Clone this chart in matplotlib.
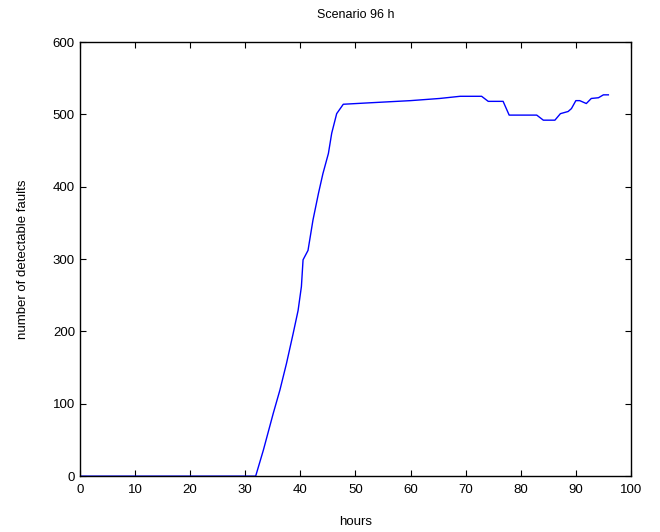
import matplotlib
matplotlib.use("Agg")
import matplotlib.pyplot as plt

plt.rcParams['font.family'] = ['Liberation Sans', 'DejaVu Sans']

# Data
hours = [0, 10, 20, 31.9, 33.3, 35.1, 36.3, 37.5, 38.7, 39.6, 40.2, 40.5, 41.4, 42.3,
         43.3, 44.1, 45.1, 45.7, 46.6, 47.8, 52.6, 60.0, 65.3, 69.0, 72.9, 74.1,
         76.8, 77.9, 82.9, 84.1, 86.2, 87.2, 88.6, 89.2, 90.0, 90.7, 91.9, 92.8,
         94.1, 95.0, 95.9]
faults = [0, 0, 0, 0, 36, 87, 119, 156, 197, 229, 262, 299, 312, 354,
          391, 418, 446, 474, 501, 514, 516, 519, 522, 525, 525, 518,
          518, 499, 499, 492, 492, 501, 504, 508, 519, 519, 515, 522,
          523, 527, 527]

x_ticks = list(range(0, 101, 10))
y_ticks = list(range(0, 601, 100))

fig = plt.figure(figsize=(6.6, 5.32), dpi=100)
ax = fig.add_axes([0.121, 0.105, 0.835, 0.816])
ax.plot(hours, faults, color="blue", linewidth=1)

ax.set_xlim(0, 100)
ax.set_ylim(0, 600)
ax.set_xticks(x_ticks)
ax.set_yticks(y_ticks)
ax.tick_params(direction="in", top=True, right=True, labelsize=9.5, length=4)
ax.tick_params(axis="x", pad=6)
for spine in ax.spines.values():
    spine.set_linewidth(1)

ax.set_title("Scenario 96 h", fontsize=9, pad=17)
ax.set_xlabel("hours", fontsize=9.5, labelpad=14)
ax.set_ylabel("number of detectable faults", fontsize=9.5, labelpad=17)

fig.savefig("out.png", dpi=100)
